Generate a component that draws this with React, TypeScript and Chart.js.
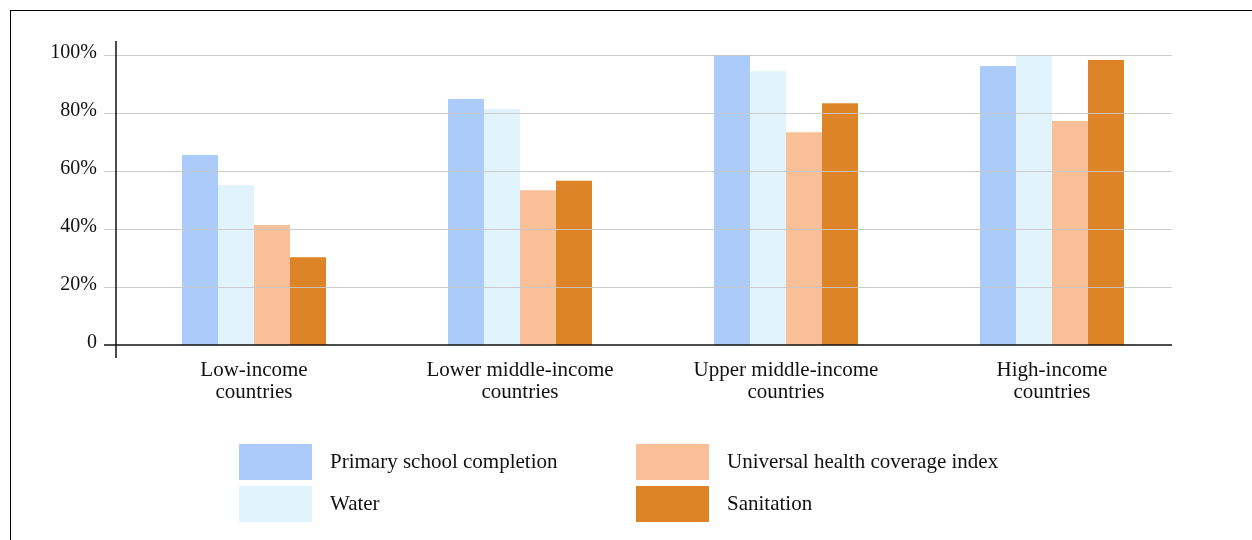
import React, { useEffect, useRef } from "react";
import { Chart, registerables } from "chart.js";

Chart.register(...registerables);

const categories: string[][] = [
  ["Low-income", "countries"],
  ["Lower middle-income", "countries"],
  ["Upper middle-income", "countries"],
  ["High-income", "countries"],
];
const seriesNames = [
  "Primary school completion",
  "Water",
  "Universal health coverage index",
  "Sanitation",
];
const primary = [65.5, 84.8, 100, 96.2];
const water = [55.2, 81.4, 94.5, 100];
const uhc = [41.4, 53.4, 73.4, 77.2];
const sanitation = [30.3, 56.6, 83.4, 98.3];
const yTicks = [0, 20, 40, 60, 80, 100];
const colors = ["#abcbfa", "#e1f3fd", "#f9c098", "#dd8429"];

const FONT = "'Liberation Serif', 'Times New Roman', serif";

const framePlugin = {
  id: "frame",
  afterDatasetsDraw(chart: any) {
    const { ctx, chartArea } = chart;
    const y = chart.scales.y;
    const left = chartArea.left - 17;
    const right = chartArea.right - 13;
    ctx.save();
    ctx.lineWidth = 1;
    ctx.strokeStyle = "rgba(200,200,200,0.9)";
    yTicks.forEach((v) => {
      if (v === 0) return;
      const py = Math.round(y.getPixelForValue(v)) + 0.5;
      ctx.beginPath();
      ctx.moveTo(left, py);
      ctx.lineTo(right, py);
      ctx.stroke();
    });
    ctx.strokeStyle = "#111";
    ctx.lineWidth = 1.5;
    const p0 = y.getPixelForValue(0);
    ctx.beginPath();
    ctx.moveTo(left, p0);
    ctx.lineTo(right, p0);
    ctx.stroke();
    const ax = chartArea.left - 5;
    ctx.beginPath();
    ctx.moveTo(ax, chartArea.top - 14);
    ctx.lineTo(ax, chartArea.bottom + 13);
    ctx.stroke();
    ctx.restore();
  },
};

const legendItems = [
  { name: seriesNames[0], color: colors[0], left: 239, top: 444 },
  { name: seriesNames[1], color: colors[1], left: 239, top: 486 },
  { name: seriesNames[2], color: colors[2], left: 636, top: 444 },
  { name: seriesNames[3], color: colors[3], left: 636, top: 486 },
];

export default function App() {
  const canvasRef = useRef<HTMLCanvasElement | null>(null);

  useEffect(() => {
    if (!canvasRef.current) return;
    const data = [primary, water, uhc, sanitation];
    const chart = new Chart(canvasRef.current, {
      type: "bar",
      data: {
        labels: categories,
        datasets: seriesNames.map((name, i) => ({
          label: name,
          data: data[i],
          backgroundColor: colors[i],
          borderWidth: 0,
          barPercentage: 1,
          categoryPercentage: 0.5414,
        })),
      },
      options: {
        animation: false,
        responsive: false,
        maintainAspectRatio: false,
        devicePixelRatio: 1,
        layout: { padding: { left: 21, right: 67, top: 55, bottom: 115 } },
        plugins: {
          legend: { display: false },
          tooltip: { enabled: false },
        },
        scales: {
          x: {
            grid: { display: false, drawTicks: false },
            border: { display: false },
            ticks: {
              color: "#111",
              font: { family: FONT, size: 21, lineHeight: 1.05 },
              padding: 14,
              maxRotation: 0,
              autoSkip: false,
            },
            afterFit: (s: any) => {
              s.height = 80;
            },
          },
          y: {
            min: 0,
            max: 100,
            grid: { display: false, drawTicks: false },
            border: { display: false },
            afterBuildTicks: (s: any) => {
              s.ticks = yTicks.map((v) => ({ value: v }));
            },
            ticks: {
              color: "#111",
              font: { family: FONT, size: 20 },
              padding: 24,
              labelOffset: -2,
              callback: (v: any) => (Number(v) === 0 ? "0" : v + "%"),
            },
            afterFit: (s: any) => {
              s.width = 100;
            },
          },
        },
      },
      plugins: [framePlugin],
    });
    return () => chart.destroy();
  }, []);

  return (
    <div
      style={{
        position: "fixed",
        left: 0,
        top: 0,
        width: 1252,
        height: 540,
        overflow: "hidden",
        background: "#fff",
        fontFamily: FONT,
      }}
    >
      <div
        style={{
          position: "absolute",
          left: 10,
          top: 10,
          width: 1300,
          height: 700,
          border: "1.5px solid #000",
        }}
      />
      <canvas
        ref={canvasRef}
        width={1252}
        height={540}
        style={{ position: "absolute", left: 0, top: 0, width: 1252, height: 540 }}
      />
      {legendItems.map((it) => (
        <React.Fragment key={it.name}>
          <div
            style={{
              position: "absolute",
              left: it.left,
              top: it.top,
              width: 73,
              height: 36,
              background: it.color,
            }}
          />
          <div
            style={{
              position: "absolute",
              left: it.left + 91,
              top: it.top - 1,
              height: 36,
              lineHeight: "36px",
              fontSize: 21,
              color: "#111",
              whiteSpace: "nowrap",
            }}
          >
            {it.name}
          </div>
        </React.Fragment>
      ))}
    </div>
  );
}
